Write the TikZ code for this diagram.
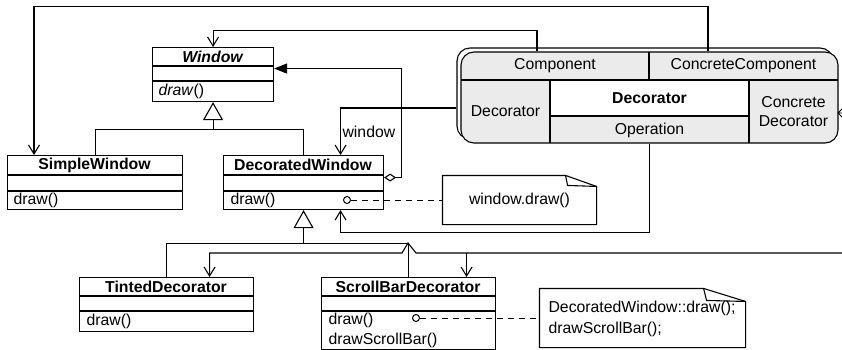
\documentclass[tikz,border=0pt]{standalone}
\usepackage{fontspec}
\setmainfont{Liberation Sans}
\usetikzlibrary{arrows.meta,calc}
\definecolor{cellgray}{HTML}{EBEBEB}
\begin{document}
\begin{tikzpicture}[x=1pt,y=-1pt,line width=1.1pt,
  every node/.style={font=\fontsize{15.8}{19}\selectfont, inner sep=0pt},
  cbox/.style={draw, fill=white, anchor=north west},
  cell/.style={minimum width=#1, align=center},
  meth/.style={anchor=west},
  opn/.style={-{Straight Barb[length=9pt,width=11pt,line width=1.1pt]}},
  inh/.style={-{Triangle[open,length=18pt,width=20pt,fill=white,line width=1.1pt]}},
  agg/.style={{Diamond[open,length=12pt,width=8pt,fill=white,line width=1.1pt]}-{Triangle[length=13pt,width=10pt]}},
  circ/.style={circle, draw, fill=white, minimum size=7pt, line width=1pt},
  dashln/.style={dash pattern=on 6pt off 5pt, line width=1pt},
  notebox/.style={minimum width=#1}
]
\useasboundingbox (0,0) rectangle (842,350);

% ---------- class boxes ----------
\node[cbox, minimum width=121pt, minimum height=54pt] (win) at (152,47) {};
\draw (152,66) -- (273,66); \draw (152,81) -- (273,81);
\node (wint) at (212.5,56.5) {\bfseries\itshape Window};
\node[meth] (winm) at (158,91) {\textit{draw}()};

\node[cbox, minimum width=175pt, minimum height=54pt] (sw) at (7,155) {};
\draw (7,175) -- (182,175); \draw (7,191) -- (182,191);
\node (swt) at (94.5,165) {\bfseries SimpleWindow};
\node[meth] (swm) at (13,200) {draw()};

\node[cbox, minimum width=160pt, minimum height=54pt] (dw) at (223,155) {};
\draw (223,175) -- (383,175); \draw (223,191) -- (383,191);
\node (dwt) at (303,165) {\bfseries DecoratedWindow};
\node[meth] (dwm) at (230,200) {draw()};

\node[cbox, minimum width=174pt, minimum height=54pt] (td) at (79,277) {};
\draw (79,296) -- (253,296); \draw (79,311) -- (253,311);
\node (tdt) at (166,286.5) {\bfseries TintedDecorator};
\node[meth] (tdm) at (86,321) {draw()};

\node[cbox, minimum width=174pt, minimum height=72pt] (sb) at (321,277) {};
\draw (321,296) -- (495,296); \draw (321,311) -- (495,311);
\node (sbt) at (408,286.5) {\bfseries ScrollBarDecorator};
\node[meth] (sbm1) at (328,320) {draw()};
\node[meth] (sbm2) at (328,340) {drawScrollBar()};

% ---------- pattern box ----------
\draw[fill=white, rounded corners=13pt] (457,48) rectangle (833,139);
\draw[fill=cellgray, rounded corners=13pt] (461,52) rectangle (838,143);
\fill[white] (550,80) rectangle (749,116);
\draw (461,80) -- (838,80);
\draw (649,52) -- (649,80);
\draw (550,80) -- (550,143);
\draw (749,80) -- (749,143);
\draw (550,116) -- (749,116);
\node[cell=188pt, minimum height=28pt] (comp) at (555,66) {Component};
\node[cell=189pt, minimum height=28pt] (ccomp) at (743.5,66) {ConcreteComponent};
\node[cell=89pt, minimum height=63pt] (decl) at (505.5,111.5) {Decorator};
\node[cell=199pt, minimum height=36pt] (dcent) at (649.5,98) {\bfseries Decorator};
\node[cell=199pt, minimum height=27pt] (oper) at (649.5,130) {Operation};
\node[cell=89pt, minimum height=63pt] (cdec) at (793.5,111.5) {Concrete\\Decorator};
\draw[line width=0.8pt] (838,113) -- (842,109) (838,113) -- (842,113) (838,113) -- (842,117);

% ---------- notes ----------
\node[notebox=153pt, minimum height=48pt] (n1) at (519.5,200) {window.draw()};
\draw (n1.north west) -- ([xshift=-31pt]n1.north east) -- ([yshift=-11pt]n1.north east)
  -- (n1.south east) -- (n1.south west) -- cycle;
\draw ([xshift=-31pt]n1.north east) -- ([xshift=-29pt,yshift=-10pt]n1.north east) -- ([yshift=-11pt]n1.north east);

\node[notebox=205pt, minimum height=58pt] (n2) at (642.5,318) {};
\draw (n2.north west) -- ([xshift=-42pt]n2.north east) -- ([yshift=-13pt]n2.north east)
  -- (n2.south east) -- (n2.south west) -- cycle;
\draw ([xshift=-42pt]n2.north east) -- ([xshift=-39pt,yshift=-12pt]n2.north east) -- ([yshift=-13pt]n2.north east);
\node[anchor=west, align=left, font=\fontsize{15.8}{20.5}\selectfont] (n2t) at (548,319) {DecoratedWindow::draw();\\drawScrollBar();};

\node[circ] (c1) at (347,200) {};
\draw[dashln] (c1) -- (n1.west);
\node[circ] (c2) at (416,318) {};
\draw[dashln] (c2) -- (n2.west);

% ---------- inheritance ----------
\coordinate (j1) at ([yshift=-27pt]win.south);
\draw (sw.north) |- (j1) -| (dw.north);
\draw[inh] (j1) -- (win.south);
\coordinate (j2) at ([yshift=-33pt]dw.south);
\draw (td.north) |- (j2) -| (sb.north);
\draw[inh] (j2) -- (dw.south);

% ---------- pattern connectors ----------
\draw[opn] ([xshift=-18pt]comp.north) -- ++(0,-21) -| (win.north);
\draw[opn] ([xshift=-35.5pt]ccomp.north) -- ++(0,-45) -| ([xshift=27pt]sw.north west);
\draw[opn] ([xshift=-4pt,yshift=3.5pt]decl.west) -| ([xshift=37pt]dw.north);
\node[anchor=west, inner sep=1pt] (wlab) at (341,132) {window};
\draw[opn] (oper.south) -- ++(0,88) -| ([xshift=37pt]dw.south);
\draw[agg] ([yshift=5pt]dw.east) -- ++(17,0) |- ([yshift=6pt]win.east);

\coordinate (rt) at (842,253);
\draw[opn] (rt) -- (416,253) -- (408,243) -- (402,253) -| ([xshift=43pt]td.north);
\draw[opn] ([xshift=58pt]sb.north |- rt) -- ([xshift=58pt]sb.north);
\end{tikzpicture}
\end{document}
